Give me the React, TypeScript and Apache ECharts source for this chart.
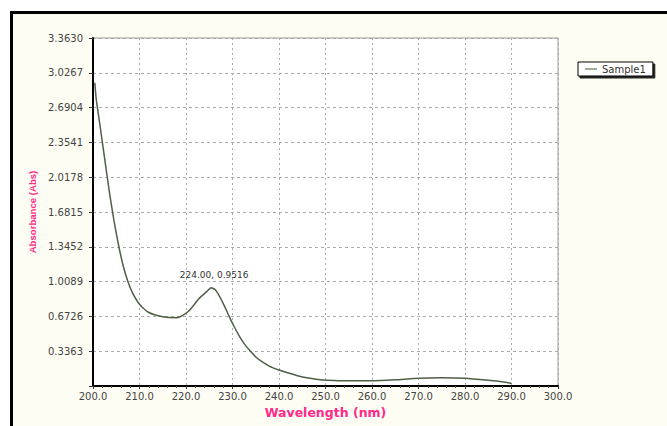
import React, { useEffect, useRef } from "react";
import * as echarts from "echarts";

const wavelengths = [
  200.4, 200.7, 201.5, 202.5, 203.5, 204.5, 205.5, 206.5, 207.5, 208.5, 210.0, 212.0, 215.0,
  218.0, 219.2, 220.7, 222.9, 224.4, 225.4, 226.3, 227.3, 228.3, 229.3, 230.4, 231.5, 232.5,
  233.6, 235.0, 236.5, 238.0, 240.0, 242.0, 244.0, 246.0, 248.0, 250.5, 255.0, 260.0, 265.0,
  270.0, 275.0, 280.0, 285.0, 288.0, 290.0,
];
const absorbance = [
  2.93, 2.77, 2.52, 2.2, 1.88, 1.6, 1.36, 1.16, 1.01, 0.9, 0.79, 0.71, 0.67,
  0.66, 0.68, 0.73, 0.85, 0.91, 0.95, 0.93, 0.86, 0.77, 0.67, 0.57, 0.48, 0.41,
  0.35, 0.28, 0.23, 0.19, 0.155, 0.125, 0.1, 0.08, 0.066, 0.056, 0.05, 0.05, 0.06,
  0.075, 0.08, 0.075, 0.055, 0.04, 0.025,
];
const peak = [225.4, 0.95];
const peakLabel = "224.00, 0.9516";
const seriesName = "Sample1";
const xTitle = "Wavelength (nm)";
const yTitle = "Absorbance (Abs)";

const tickFont = "DejaVu Sans, Verdana, sans-serif";

export default function App() {
  const ref = useRef<HTMLDivElement>(null);
  useEffect(() => {
    if (!ref.current) return;
    const chart = echarts.init(ref.current, undefined, { renderer: "svg" });
    chart.setOption({
      animation: false,
      backgroundColor: "transparent",
      grid: {
        left: 93,
        top: 38,
        right: 109,
        bottom: 40,
        show: true,
        backgroundColor: "#ffffff",
        borderColor: "#999999",
        borderWidth: 1,
      },
      legend: {
        left: 578,
        top: 62,
        data: [{ name: seriesName, icon: "rect" }],
        itemWidth: 12,
        itemHeight: 2,
        itemGap: 8,
        padding: [2, 7, 2, 7],
        backgroundColor: "#ffffff",
        borderColor: "#000000",
        borderWidth: 1,
        borderRadius: 0,
        shadowColor: "rgba(0,0,0,0.85)",
        shadowOffsetX: 2,
        shadowOffsetY: 2,
        shadowBlur: 0,
        itemStyle: { color: "#9fae95" },
        textStyle: { fontSize: 10, color: "#333", fontFamily: tickFont },
      },
      xAxis: {
        type: "value",
        min: 200,
        max: 300,
        interval: 10,
        name: xTitle,
        nameLocation: "middle",
        nameGap: 15,
        nameTextStyle: {
          color: "#ff2a8a",
          fontWeight: "bold",
          fontSize: 12.5,
          fontFamily: tickFont,
        },
        axisLine: { show: true, onZero: false, lineStyle: { color: "#000", width: 2 } },
        axisTick: { show: true, length: 3, lineStyle: { color: "#333" } },
        minorTick: { show: true, splitNumber: 5, length: 2, lineStyle: { color: "#555" } },
        axisLabel: {
          formatter: (v: number) => v.toFixed(1),
          fontSize: 10,
          color: "#444",
          margin: 5,
          fontFamily: tickFont,
        },
        splitLine: { show: true, lineStyle: { color: "#aaaaaa", type: [2, 3], width: 1 } },
      },
      yAxis: {
        type: "value",
        min: 0,
        max: 3.363,
        interval: 0.3363,
        name: yTitle,
        nameLocation: "middle",
        nameRotate: 90,
        nameGap: 52,
        nameTextStyle: {
          color: "#ff2a8a",
          fontWeight: "bold",
          fontSize: 9.6,
          fontFamily: "Liberation Sans, Arial, sans-serif",
        },
        axisLine: { show: true, onZero: false, lineStyle: { color: "#000", width: 2 } },
        axisTick: { show: true, length: 4, lineStyle: { color: "#333" } },
        axisLabel: {
          formatter: (v: number) => (v === 0 ? "" : v.toFixed(4)),
          fontSize: 10,
          color: "#444",
          margin: 10,
          fontFamily: tickFont,
        },
        splitLine: { show: true, lineStyle: { color: "#aaaaaa", type: [3, 3], width: 1 } },
      },
      series: [
        {
          name: seriesName,
          type: "line",
          data: wavelengths.map((w, i) => [w, absorbance[i]]),
          showSymbol: false,
          symbol: "none",
          smooth: 0.2,
          lineStyle: { color: "#4f5f48", width: 1.5 },
          itemStyle: { color: "#9fae95" },
          markPoint: {
            symbol: "circle",
            symbolSize: 0,
            data: [{ coord: peak }],
            label: {
              show: true,
              position: "top",
              distance: 4,
              formatter: peakLabel,
              fontSize: 9,
              color: "#333",
              fontFamily: tickFont,
              offset: [3, -4],
            },
          },
        },
      ],
    });
    return () => chart.dispose();
  }, []);
  return (
    <div style={{ position: "fixed", left: 0, top: 0, width: 667, height: 426, background: "#ffffff", overflow: "hidden" }}>
      <div
        style={{
          position: "absolute",
          left: 10,
          top: 11,
          width: 700,
          height: 450,
          background: "#fdfdf3",
          borderLeft: "3px solid #000",
          borderTop: "3px solid #000",
        }}
      />
      <div ref={ref} style={{ position: "absolute", left: 0, top: 0, width: 667, height: 426 }} />
    </div>
  );
}
